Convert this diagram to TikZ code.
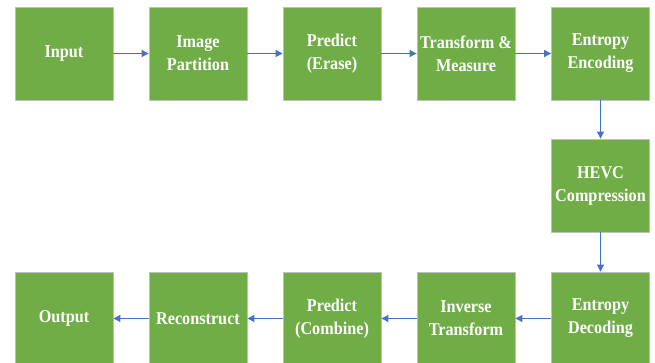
\documentclass[tikz,border=0pt]{standalone}
\usepackage{fontspec}
\setmainfont{Liberation Serif}
\newfontfamily\boxfont[FakeStretch=0.9]{Liberation Serif}
\usetikzlibrary{arrows.meta}
\definecolor{boxgreen}{HTML}{70AD47}
\definecolor{arrowblue}{HTML}{4472C4}
\tikzset{
  stage/.style={draw=black!25,line width=0.8pt,fill=boxgreen,text=white,
    minimum width=98pt,minimum height=93pt,inner sep=0pt,align=center,
    font=\boxfont\fontsize{18}{23}\selectfont\bfseries},
  flow/.style={draw=arrowblue,line width=0.9pt,-{Triangle[width=7pt,length=7pt]}}
}
\begin{document}
\begin{tikzpicture}[x=1pt,y=-1pt]
\useasboundingbox (0,0) rectangle (655,363);

% top row
\node[stage] (input) at (64,53.5) {Input};
\node[stage] (part) at (198,53.5) {Image\\Partition};
\node[stage] (erase) at (332,53.5) {Predict\\(Erase)};
\node[stage] (trans) at (466,53.5) {Transform \&\\Measure};
\node[stage] (enc) at (600.5,53.5) {Entropy\\Encoding};

% middle
\node[stage] (hevc) at (600.5,185.5) {HEVC\\Compression};

% bottom row
\node[stage] (dec) at (600.5,318.5) {Entropy\\Decoding};
\node[stage] (inv) at (466,318.5) {Inverse\\Transform};
\node[stage] (comb) at (332,318.5) {Predict\\(Combine)};
\node[stage] (recon) at (198,318.5) {Reconstruct};
\node[stage] (output) at (64,318.5) {Output};

\draw[flow] (input)--(part);
\draw[flow] (part)--(erase);
\draw[flow] (erase)--(trans);
\draw[flow] (trans)--(enc);
\draw[flow] (enc)--(hevc);
\draw[flow] (hevc)--(dec);
\draw[flow] (dec)--(inv);
\draw[flow] (inv)--(comb);
\draw[flow] (comb)--(recon);
\draw[flow] (recon)--(output);
\end{tikzpicture}
\end{document}
